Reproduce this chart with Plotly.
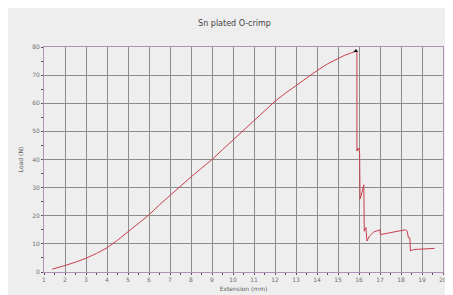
import plotly.graph_objects as go

title_text = "Sn plated O-crimp"
x_title = "Extension (mm)"
y_title = "Load (N)"

extension = [1.39, 1.5, 2, 2.5, 3, 3.5, 4, 4.5, 5, 5.5, 6, 6.5, 7, 7.5, 8, 8.5, 9, 9.5,
             10, 10.5, 11, 11.5, 12, 12.5, 13, 13.5, 14, 14.5, 15, 15.3, 15.6, 15.85,
             15.9, 15.9, 15.93, 15.97, 16.0, 16.03, 16.05, 16.1, 16.2, 16.23, 16.25,
             16.3, 16.33, 16.38, 16.5, 16.7, 16.9, 17.0, 17.02, 17.5, 18.0, 18.2,
             18.3, 18.35, 18.42, 18.45, 18.6, 19.0, 19.6]
load = [1.0, 1.2, 2.3, 3.5, 4.9, 6.6, 8.6, 11.3, 14.2, 17.2, 20.3, 23.9, 27.3, 30.6, 33.8, 36.9, 40.0, 43.5,
        47.0, 50.5, 54.0, 57.4, 60.7, 63.6, 66.3, 69.0, 71.6, 74.0, 76.0, 77.0, 77.8, 78.5,
        78.3, 43.0, 44.0, 43.5, 44.0, 42.0, 26.0, 27.0, 30.8, 31.0, 14.5,
        15.5, 15.8, 11.0, 12.8, 14.2, 14.9, 15.0, 13.3, 14.0, 14.6, 15.0,
        14.5, 12.2, 12.2, 7.5, 8.0, 8.2, 8.4]

peak_x = [15.85]
peak_y = [78.6]

x_ticks = list(range(1, 21))
y_ticks = list(range(0, 81, 10))

fig = go.Figure()
fig.add_trace(go.Scatter(x=extension, y=load, mode="lines",
                         line=dict(color="#c8404c", width=1), showlegend=False))
fig.add_trace(go.Scatter(x=peak_x, y=peak_y, mode="markers",
                         marker=dict(symbol="triangle-up", size=4, color="black"),
                         showlegend=False))

axis_font = dict(family="DejaVu Sans", size=6, color="#707070")
fig.update_layout(
    width=453, height=295,
    margin=dict(l=34, r=18, t=39, b=27),
    paper_bgcolor="#eeeeee", plot_bgcolor="#eeeeee",
    title=dict(text=title_text, x=0.5, xanchor="center", y=0.95, yanchor="middle",
               font=dict(family="DejaVu Sans", size=8, color="#444444")),
    xaxis=dict(range=[1, 20], tickvals=x_ticks, ticktext=[str(v) for v in x_ticks],
               showgrid=True, gridcolor="#8c8c8c", gridwidth=1,
               showline=True, linecolor="#b090b8", linewidth=1, mirror=True,
               ticks="outside", ticklen=2, tickcolor="#555555", tickfont=axis_font,
               minor=dict(dtick=0.5, ticks="outside", ticklen=2, tickcolor="#555555", showgrid=False),
               zeroline=False,
               title=dict(text=x_title, font=dict(family="DejaVu Sans", size=6, color="#606060"), standoff=4)),
    yaxis=dict(range=[0, 80], tickvals=y_ticks, ticktext=[str(v) for v in y_ticks],
               showgrid=True, gridcolor="#8c8c8c", gridwidth=1,
               showline=True, linecolor="#b090b8", linewidth=1, mirror=True,
               ticks="outside", ticklen=2, tickcolor="#555555", tickfont=axis_font,
               minor=dict(dtick=5, ticks="outside", ticklen=2, tickcolor="#555555", showgrid=False),
               zeroline=False,
               title=dict(text=y_title, font=dict(family="DejaVu Sans", size=6, color="#606060"), standoff=8)),
)

fig.write_html("out.html")
